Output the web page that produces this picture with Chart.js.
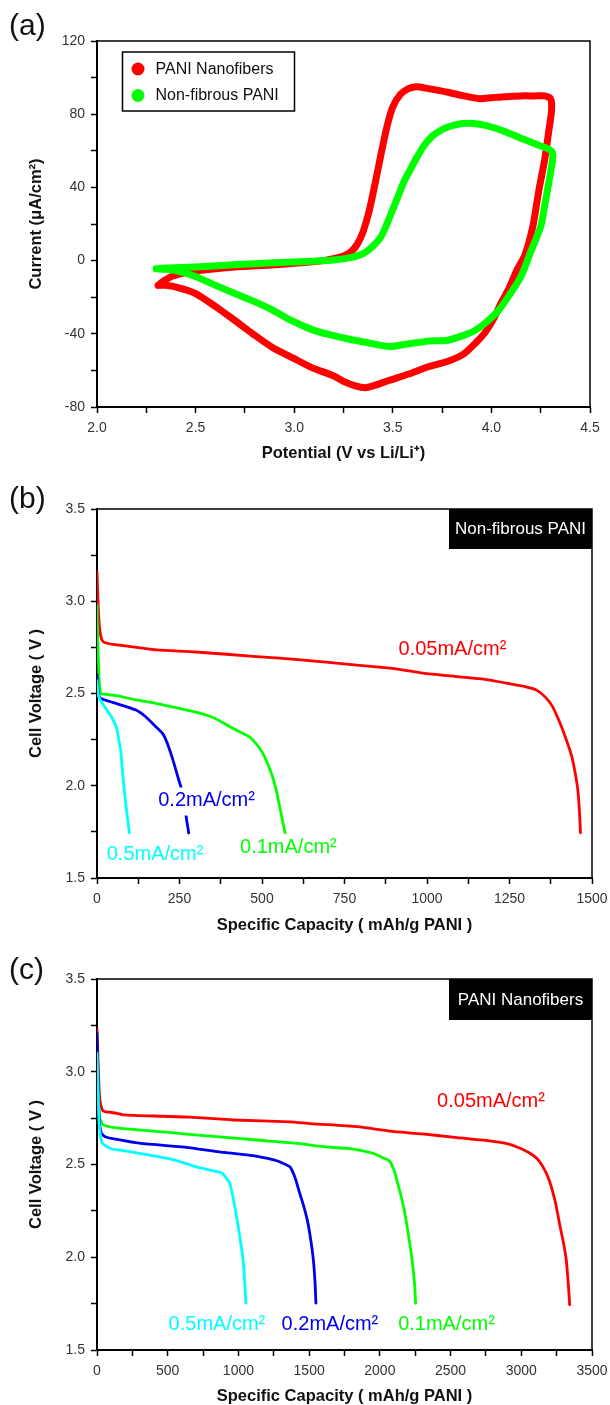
<!DOCTYPE html>
<html><head><meta charset="utf-8">
<script src="https://cdn.jsdelivr.net/npm/chart.js@4.4.1/dist/chart.umd.min.js"></script>
<style>
html,body{margin:0;padding:0;background:#fff;}
#wrap{position:relative;width:610px;height:1405px;overflow:hidden;background:#fff;}
canvas{position:absolute;left:0;}
.plabel{position:absolute;left:9px;font-family:'Liberation Sans',Arial,sans-serif;font-size:30px;line-height:30px;color:#111;}
</style></head><body>
<div id="wrap">
<canvas id="ca" width="610" height="470" style="top:0;width:610px;height:470px"></canvas>
<canvas id="cb" width="610" height="470" style="top:470px;width:610px;height:470px"></canvas>
<canvas id="cc" width="610" height="465" style="top:940px;width:610px;height:465px"></canvas>
<div class="plabel" style="top:10px">(a)</div>
<div class="plabel" style="top:483px">(b)</div>
<div class="plabel" style="top:954px">(c)</div>
</div>
<script>
// ---------- DATA ----------
// (a) Cyclic voltammetry: potential (V) and current (uA/cm2)
const cvSeriesNames = ['PANI Nanofibers', 'Non-fibrous PANI'];
const cvRedV = [2.31,2.34,2.38,2.45,2.55,2.70,2.90,3.05,3.15,3.20,3.25,3.29,3.32,3.35,3.38,3.41,3.44,3.47,3.50,3.54,3.58,3.62,3.68,3.78,3.86,3.94,4.00,4.07,4.15,4.22,4.27,4.30,4.305,4.29,4.27,4.24,4.21,4.17,4.13,4.09,4.05,4.01,3.97,3.92,3.86,3.78,3.68,3.58,3.48,3.40,3.36,3.31,3.25,3.20,3.09,2.99,2.89,2.79,2.69,2.60,2.50,2.42,2.35,2.31];
const cvRedI = [-13.5,-11,-8.5,-6.5,-5,-3.5,-2.3,-1,0,1,2.5,5,9,16,27,42,58,73,84,91,94,95,94,92,90,88.5,89,89.6,90,90,90,88.5,82,70,55,38,18.6,3,-5,-15,-23,-32,-39,-45,-51,-55,-58,-62,-65.5,-68.5,-69.5,-68.5,-66,-63,-58.5,-53,-47.5,-40,-32,-25,-18,-15,-13.5,-13.5];
const cvGreenV = [2.30,2.35,2.50,2.69,2.90,3.09,3.20,3.28,3.33,3.36,3.40,3.44,3.47,3.50,3.53,3.56,3.59,3.62,3.66,3.70,3.74,3.78,3.83,3.88,3.94,4.00,4.08,4.17,4.24,4.29,4.31,4.31,4.29,4.27,4.25,4.20,4.15,4.09,4.03,3.97,3.92,3.88,3.78,3.68,3.58,3.48,3.38,3.28,3.18,3.09,2.99,2.89,2.79,2.69,2.59,2.50,2.42,2.35,2.30];
const cvGreenI = [-4.5,-4,-3.5,-2.3,-1.2,-0.3,0.3,1.5,3,4.5,8,13,20,28,36,44,50,56,63,68,71,73,74.5,75,74.5,73,70,66,63,61,59,55,42,30,18.6,5,-8.7,-19,-28,-34,-38,-40,-43.5,-44,-45.5,-47,-45,-43,-40.5,-37.7,-33,-27,-22,-17.6,-13,-8.7,-6,-4.8,-4.5];

// (b) Non-fibrous PANI discharge: capacity (mAh/g) and cell voltage (V)
const rateNames = ['0.05mA/cm²', '0.1mA/cm²', '0.2mA/cm²', '0.5mA/cm²'];
const bCap005 = [0,3,8,15,25,60,120,181,300,484,600,787,900,988,1100,1191,1240,1297,1330,1357,1380,1403,1420,1439,1450,1457,1462,1465];
const bV005   = [3.16,3.0,2.85,2.79,2.775,2.763,2.75,2.736,2.725,2.70,2.685,2.654,2.635,2.61,2.59,2.573,2.556,2.537,2.52,2.483,2.43,2.34,2.26,2.157,2.06,1.977,1.86,1.745];
const bCap01  = [0,3,7,12,30,60,120,178,296,355,413,461,490,508,530,543,560,570];
const bV01    = [2.98,2.75,2.56,2.50,2.495,2.488,2.465,2.447,2.40,2.367,2.31,2.266,2.21,2.157,2.06,1.977,1.83,1.745];
const bCap02  = [0,3,8,24,60,118,150,178,200,213,230,248,254,265,272,278];
const bV02    = [2.60,2.52,2.48,2.465,2.445,2.41,2.37,2.32,2.28,2.23,2.14,2.03,1.995,1.9,1.81,1.744];
const bCap05  = [0,3,6,15,30,45,60,66,72,76,83,90,98];
const bV05    = [2.57,2.50,2.48,2.45,2.41,2.37,2.31,2.25,2.19,2.10,1.97,1.86,1.745];

// (c) PANI nanofibers discharge
const cCap005 = [0,10,20,40,57,141,184,467,658,962,1365,1513,1838,2072,2300,2546,2750,2900,3000,3083,3125,3166,3200,3240,3275,3300,3318,3332,3342];
const cV005   = [3.23,3.0,2.85,2.79,2.785,2.776,2.768,2.76,2.755,2.74,2.73,2.72,2.704,2.68,2.665,2.645,2.63,2.612,2.585,2.55,2.52,2.47,2.41,2.30,2.163,2.07,1.985,1.86,1.745];
const cCap01  = [0,10,20,42,141,400,690,1131,1400,1600,1789,1953,2025,2066,2100,2120,2150,2176,2200,2228,2245,2253];
const cV01    = [3.05,2.85,2.75,2.715,2.697,2.68,2.66,2.632,2.615,2.596,2.585,2.56,2.535,2.52,2.47,2.416,2.33,2.238,2.13,1.985,1.86,1.752];
const cCap02  = [0,8,15,30,57,141,300,658,900,1103,1250,1295,1365,1400,1433,1460,1487,1510,1530,1542,1548];
const cV02    = [3.21,2.95,2.75,2.67,2.65,2.635,2.615,2.59,2.565,2.548,2.525,2.513,2.487,2.43,2.346,2.28,2.20,2.10,1.985,1.86,1.753];
const cCap05  = [0,8,15,30,44,100,184,300,450,552,690,800,883,910,938,965,991,1012,1033,1045,1053];
const cV05    = [3.1,2.9,2.72,2.63,2.61,2.585,2.575,2.56,2.54,2.524,2.49,2.47,2.454,2.43,2.40,2.31,2.20,2.10,1.985,1.86,1.753];

// tick ranges
const aXTicks = {min:2, max:4.5, step:0.25, labelEvery:0.5};
const aYTicks = {min:-80, max:120, step:20, labelEvery:40};
const bXTicks = {min:0, max:1500, step:125, labelEvery:250};
const cXTicks = {min:0, max:3500, step:250, labelEvery:500};
const vYTicks = {min:1.5, max:3.5, step:0.25, labelEvery:0.5};

// ---------- STYLE / HELPERS ----------
const FONT = "'Liberation Sans', Arial, sans-serif";
const RED = '#ff0000', GREEN = '#00ff00', BLUE = '#0000ee', CYAN = '#00ffff';
const pts = (xs, ys) => xs.map((x, i) => ({x, y: ys[i]}));

function makeAxis(t, decimals, fitSize, isX, title, titlePad) {
  return {
    type: 'linear', min: t.min, max: t.max,
    afterFit: s => {
      if (isX) { s.height = fitSize; s.paddingLeft = 0; s.paddingRight = 0; }
      else { s.width = fitSize; s.paddingTop = 0; s.paddingBottom = 0; }
    },
    ticks: {
      stepSize: t.step, autoSkip: false, maxRotation: 0, color: '#333',
      font: {family: FONT, size: 14}, padding: isX ? 7 : 6,
      callback: v => {
        const k = Math.round((v - t.min) / t.labelEvery * 1000) / 1000;
        return Number.isInteger(k) ? v.toFixed(decimals) : '';
      }
    },
    grid: {drawOnChartArea: false, drawTicks: true, tickLength: 6, tickColor: '#000', tickWidth: 1.5},
    border: {display: true, color: '#000', width: 2},
    title: {display: true, text: title, color: '#111',
      font: {family: FONT, size: 16.5, weight: 'bold', lineHeight: 1},
      padding: titlePad}
  };
}

const framePlugin = {
  id: 'frame',
  afterDatasetsDraw(chart) {
    const {ctx, chartArea: a} = chart;
    ctx.save();
    ctx.strokeStyle = '#000'; ctx.lineWidth = 1.5;
    ctx.beginPath(); ctx.moveTo(a.left, a.top); ctx.lineTo(a.right, a.top); ctx.lineTo(a.right, a.bottom); ctx.stroke();
    ctx.restore();
  }
};

const notesPlugin = {
  id: 'notes',
  afterDraw(chart, args, opts) {
    const {ctx, chartArea: a, scales} = chart;
    ctx.save();
    (opts.rates || []).forEach(r => {
      const px = scales.x.getPixelForValue(r.x), py = scales.y.getPixelForValue(r.y);
      ctx.font = '20px ' + FONT;
      const w = ctx.measureText(r.text).width;
      ctx.fillStyle = '#fff';
      ctx.fillRect(px - w / 2 - 2, py - 13, w + 4, 28);
      ctx.fillStyle = r.color; ctx.textAlign = 'center'; ctx.textBaseline = 'middle';
      ctx.fillText(r.text, px, py);
    });
    if (opts.box) {
      const b = opts.box;
      ctx.fillStyle = '#000';
      ctx.fillRect(a.right - b.w, a.top, b.w, b.h);
      ctx.fillStyle = '#fff'; ctx.font = '17px ' + FONT; ctx.textAlign = 'center'; ctx.textBaseline = 'middle';
      ctx.fillText(b.text, a.right - b.w / 2, a.top + b.h / 2 + 0.5);
    }
    if (opts.legend) {
      const L = opts.legend;
      const x0 = a.left + L.dx, y0 = a.top + L.dy;
      ctx.fillStyle = '#fff'; ctx.fillRect(x0, y0, L.w, L.h);
      ctx.strokeStyle = '#000'; ctx.lineWidth = 1.5; ctx.strokeRect(x0, y0, L.w, L.h);
      chart.data.datasets.forEach((ds, i) => {
        const cy = y0 + L.firstY + i * L.gap;
        ctx.fillStyle = ds.borderColor;
        ctx.beginPath(); ctx.arc(x0 + L.dotX, cy, 6.5, 0, Math.PI * 2); ctx.fill();
        ctx.fillStyle = '#111'; ctx.font = '16px ' + FONT; ctx.textAlign = 'left'; ctx.textBaseline = 'middle';
        ctx.fillText(ds.label, x0 + L.textX, cy + 0.5);
      });
    }
    ctx.restore();
  }
};

function baseOptions(padTop, padRight, xAxis, yAxis, notes) {
  return {
    responsive: false, animation: false, events: [],
    layout: {padding: {top: padTop, right: padRight, left: 0, bottom: 0}},
    scales: {x: xAxis, y: yAxis},
    plugins: {legend: {display: false}, tooltip: {enabled: false}, notes: notes}
  };
}
function lineDs(label, xs, ys, color, width, tension, order) {
  return {label, data: pts(xs, ys), borderColor: color, backgroundColor: color, borderWidth: width,
    showLine: true, pointRadius: 0, tension, fill: false, order,
    borderJoinStyle: 'round', borderCapStyle: 'round'};
}

// ---------- (a) ----------
new Chart(document.getElementById('ca'), {
  type: 'scatter',
  data: {datasets: [
    lineDs(cvSeriesNames[0], cvRedV, cvRedI, RED, 7, 0.25, 2),
    lineDs(cvSeriesNames[1], cvGreenV, cvGreenI, GREEN, 7, 0.25, 1)
  ]},
  options: baseOptions(41, 20,
    makeAxis(aXTicks, 1, 63, true, 'Potential (V vs Li/Li⁺)', {top: 0, bottom: 8.75}),
    makeAxis(aYTicks, 0, 97, false, 'Current (μA/cm²)', {top: 28, bottom: 0}),
    {legend: {dx: 25.5, dy: 11, w: 172, h: 59, dotX: 15.5, textX: 33, firstY: 17, gap: 26.5}}),
  plugins: [framePlugin, notesPlugin]
});

// ---------- (b) ----------
new Chart(document.getElementById('cb'), {
  type: 'scatter',
  data: {datasets: [
    lineDs(rateNames[0], bCap005, bV005, RED, 2.8, 0.2, 4),
    lineDs(rateNames[1], bCap01, bV01, GREEN, 2.8, 0.2, 3),
    lineDs(rateNames[2], bCap02, bV02, BLUE, 2.8, 0.2, 2),
    lineDs(rateNames[3], bCap05, bV05, CYAN, 2.8, 0.2, 1)
  ]},
  options: baseOptions(39, 18,
    makeAxis(bXTicks, 0, 62, true, 'Specific Capacity ( mAh/g PANI )', {top: 0, bottom: 6.75}),
    makeAxis(vYTicks, 1, 97, false, 'Cell Voltage ( V )', {top: 28, bottom: 0}),
    {box: {text: 'Non-fibrous PANI', w: 143, h: 40},
     rates: [
       {text: rateNames[0], color: RED, x: 1077, y: 2.738},
       {text: rateNames[2], color: BLUE, x: 332, y: 1.92},
       {text: rateNames[3], color: CYAN, x: 176, y: 1.63},
       {text: rateNames[1], color: GREEN, x: 580, y: 1.665}
     ]}),
  plugins: [framePlugin, notesPlugin]
});

// ---------- (c) ----------
new Chart(document.getElementById('cc'), {
  type: 'scatter',
  data: {datasets: [
    lineDs(rateNames[0], cCap005, cV005, RED, 2.8, 0.2, 4),
    lineDs(rateNames[1], cCap01, cV01, GREEN, 2.8, 0.2, 3),
    lineDs(rateNames[2], cCap02, cV02, BLUE, 2.8, 0.2, 2),
    lineDs(rateNames[3], cCap05, cV05, CYAN, 2.8, 0.2, 1)
  ]},
  options: baseOptions(39, 18,
    makeAxis(cXTicks, 0, 55, true, 'Specific Capacity ( mAh/g PANI )', {top: 0, bottom: 0}),
    makeAxis(vYTicks, 1, 97, false, 'Cell Voltage ( V )', {top: 28, bottom: 0}),
    {box: {text: 'PANI Nanofibers', w: 143, h: 41},
     rates: [
       {text: rateNames[0], color: RED, x: 2786, y: 2.84},
       {text: rateNames[3], color: CYAN, x: 848, y: 1.635},
       {text: rateNames[2], color: BLUE, x: 1647, y: 1.635},
       {text: rateNames[1], color: GREEN, x: 2471, y: 1.635}
     ]}),
  plugins: [framePlugin, notesPlugin]
});
</script>
</body></html>
